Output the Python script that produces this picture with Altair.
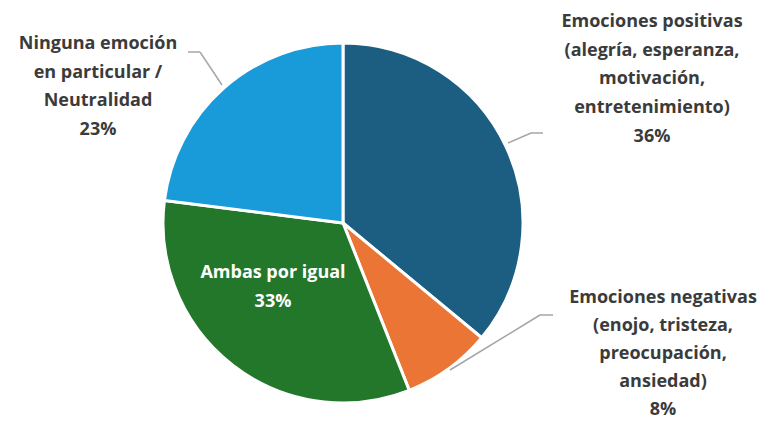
import altair as alt
import pandas as pd

categories = ["Emociones positivas", "Emociones negativas", "Ambas por igual", "Ninguna emoción"]
values = [36, 8, 33, 23]
order = [1, 2, 3, 4]
colors = ["#1b5e81", "#ea7535", "#23772b", "#1a9bd9"]

label_pos = "Emociones positivas\n(alegría, esperanza,\nmotivación,\nentretenimiento)\n36%"
label_neg = "Emociones negativas\n(enojo, tristeza,\npreocupación,\nansiedad)\n8%"
label_amb = "Ambas por igual\n33%"
label_nin = "Ninguna emoción\nen particular /\nNeutralidad\n23%"

df = pd.DataFrame({"cat": categories, "val": values, "ord": order})

W, H = 753, 413
CX, CY = 335, 215

pie = alt.Chart(df).mark_arc(radius=180, stroke="white", strokeWidth=3).encode(
    theta=alt.Theta("val:Q", stack=True),
    order=alt.Order("ord:Q"),
    color=alt.Color("cat:N", scale=alt.Scale(domain=categories, range=colors), legend=None),
    x=alt.value(CX),
    y=alt.value(CY),
)

def rule(x1, y1, x2, y2):
    return alt.Chart(df).mark_rule(color="#a6a6a6", strokeWidth=1.5).encode(
        x=alt.value(x1), y=alt.value(y1), x2=alt.value(x2), y2=alt.value(y2)
    ).transform_filter("datum.ord == 1")

rules = [
    rule(180, 44, 192, 44), rule(192, 44, 214, 77),
    rule(500, 135, 523, 125), rule(523, 125, 535, 125),
    rule(442, 362, 532, 307), rule(532, 307, 545, 307),
]

def label(text, x, y, color="#3b3b3b", lh=28.7):
    return alt.Chart(df).mark_text(
        text=text.split("\n"), font="Open Sans", fontWeight="bold", fontSize=18,
        color=color, align="center", baseline="top", lineHeight=lh,
    ).encode(x=alt.value(x), y=alt.value(y)).transform_filter("datum.ord == 1")

labels = [
    label(label_pos, 644, 5),
    label(label_neg, 655, 281, lh=28),
    label(label_nin, 90, 27),
    label(label_amb, 265, 256, color="white"),
]

chart = alt.layer(pie, *rules, *labels).properties(
    width=W, height=H, autosize=alt.AutoSizeParams(type="none"), padding=0
).configure_view(stroke=None)

chart.save("out.html", embed_options={"renderer": "svg", "actions": False})
